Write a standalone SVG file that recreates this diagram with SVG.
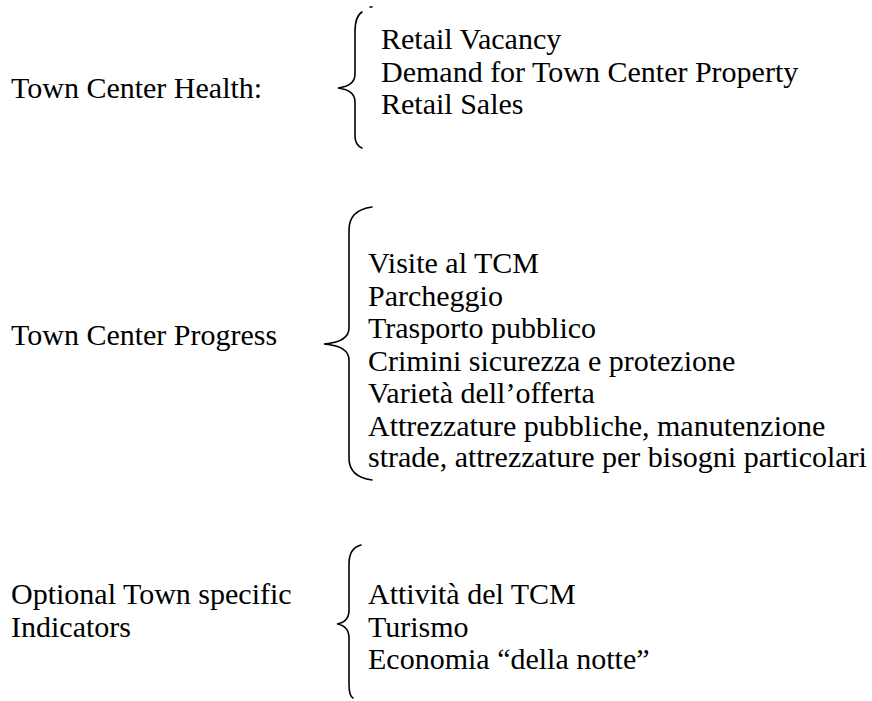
<svg xmlns="http://www.w3.org/2000/svg" width="872" height="701" viewBox="0 0 872 701">
  <style>
    text { font-family: "Liberation Serif", "Times New Roman", serif; font-size: 30px; fill: #000; }
    .brace { fill: none; stroke: #000; stroke-width: 1.6; stroke-linecap: round; }
  </style>
  <rect width="872" height="701" fill="#fff"/>

  <!-- Section 1: Town Center Health -->
  <g id="health">
    <text x="11" y="98">Town Center Health:</text>
    <path class="brace" d="M362 12 Q355 16 355 32 L355 74 Q355 86 338 88 Q355 90 355 102 L355 136 Q355 145 362 148"/>
    <path class="brace" d="M370 7 L372 7"/>
    <text x="381" y="49">Retail Vacancy</text>
    <text x="381" y="81.5">Demand for Town Center Property</text>
    <text x="381" y="114">Retail Sales</text>
  </g>

  <!-- Section 2: Town Center Progress -->
  <g id="progress">
    <text x="11" y="345">Town Center Progress</text>
    <path class="brace" d="M372 207 Q349 210 349 230 L349 328 Q349 342 324 344 Q349 346 349 360 L349 458 Q349 477 372 480"/>
    <text x="368" y="273">Visite al TCM</text>
    <text x="368" y="305.5">Parcheggio</text>
    <text x="368" y="338">Trasporto pubblico</text>
    <text x="368" y="370.5">Crimini sicurezza e protezione</text>
    <text x="368" y="403">Varietà dell’offerta</text>
    <text x="368" y="435.5">Attrezzature pubbliche, manutenzione</text>
    <text x="368" y="467">strade, attrezzature per bisogni particolari</text>
  </g>

  <!-- Section 3: Optional indicators -->
  <g id="optional">
    <text x="11" y="604">Optional Town specific</text>
    <text x="11" y="636.5">Indicators</text>
    <path class="brace" d="M361 545 Q349 548 349 564 L349 610 Q349 622 337 624 Q349 626 349 638 L349 684 Q349 696 353 698"/>
    <text x="368" y="604">Attività del TCM</text>
    <text x="368" y="636.5">Turismo</text>
    <text x="368" y="669">Economia “della notte”</text>
  </g>
</svg>
